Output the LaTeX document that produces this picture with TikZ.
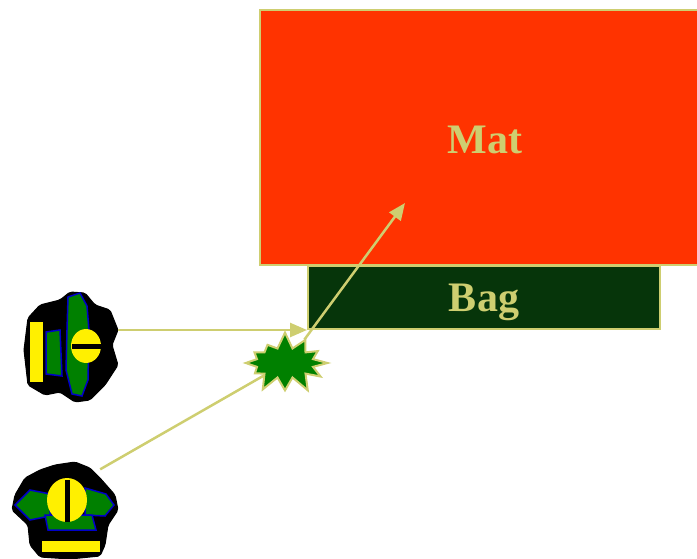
\documentclass[tikz,border=0pt]{standalone}
\usepackage{fontspec}
\setmainfont{Liberation Serif}
\usetikzlibrary{arrows.meta, shapes.symbols, positioning, calc}
\definecolor{colorKhaki}{RGB}{206,206,112}
\definecolor{colorMat}{RGB}{255,51,0}
\definecolor{colorBag}{RGB}{6,53,10}
\definecolor{colorBurst}{RGB}{0,128,0}
\definecolor{colorWing}{RGB}{0,128,0}
\definecolor{colorEdge}{RGB}{0,0,200}
\definecolor{colorBody}{RGB}{255,240,0}

\begin{document}
\begin{tikzpicture}[
    x=1pt, y=-1pt,
    every node/.style={font=\bfseries\fontsize{42}{44}\selectfont, text=colorKhaki},
    box-style/.style={draw=colorKhaki, line width=2pt, inner sep=0pt},
    hit-style/.style={-{Triangle[length=17pt, width=14pt]}, line width=2.5pt, color=colorKhaki},
    line-style/.style={line width=2.5pt, color=colorKhaki},
    wing/.style={fill=colorWing, draw=colorEdge, line width=1.5pt},
    shell/.style={fill=black, draw=black, line width=1pt, rounded corners=2pt},
    yolk/.style={fill=colorBody}
]
    \useasboundingbox (0,0) rectangle (697,559);

    % Mat and bag (mat runs off the right side)
    \node[box-style, fill=colorMat, minimum width=440pt, minimum height=255pt] (mat) at (480,137.5) {};
    \node at (485,140) {Mat};
    \node[box-style, fill=colorBag, minimum width=352pt, minimum height=63pt, text depth=0pt] (bag) at (484,297.5) {Bag};
    \coordinate (hit) at (405,203);

    % Bugs
    \node[minimum width=96pt, minimum height=110pt, inner sep=0pt] (bugA) at (70,347) {};
    \node[minimum width=108pt, minimum height=97pt, inner sep=0pt] (bugB) at (64,510) {};

    % side-view bug
    \draw[shell] (28,318) -- (40,305) -- (60,300) -- (70,292) -- (85,293) -- (95,305) -- (110,310)
        -- (118,330) -- (112,345) -- (118,365) -- (105,385) -- (90,400) -- (75,402) -- (60,392)
        -- (45,395) -- (28,385) -- (24,350) -- cycle;
    \draw[wing] (68,297) -- (80,293) -- (87,306) -- (89,330) -- (88,380) -- (82,396) -- (72,394)
        -- (66,370) -- (67,330) -- cycle;
    \draw[wing] (46,332) -- (60,330) -- (62,376) -- (46,374) -- cycle;
    \fill[yolk] (30,322) rectangle (43,382);
    \fill[yolk] (86,346) ellipse (15 and 17);
    \fill[black] (72,344) rectangle (101,349);

    % top-view bug
    \draw[shell] (25,478) -- (40,470) -- (55,465) -- (75,462) -- (90,468) -- (100,478) -- (115,495)
        -- (118,510) -- (108,525) -- (105,545) -- (100,556) -- (70,559) -- (40,557) -- (30,545)
        -- (28,525) -- (12,510) -- (15,495) -- cycle;
    \draw[wing] (15,505) -- (30,490) -- (50,494) -- (50,516) -- (30,520) -- cycle;
    \draw[wing] (85,488) -- (106,494) -- (114,505) -- (105,516) -- (85,515) -- cycle;
    \draw[wing] (45,515) -- (92,515) -- (96,530) -- (48,530) -- cycle;
    \fill[yolk] (67,500) ellipse (20 and 22);
    \fill[black] (65,480) rectangle (70,522);
    \fill[yolk] (42,541) rectangle (100,552);

    % Incoming paths and the burst
    \draw[line-style] ([shift={(-18,8)}]bugB.north east) -- (284,364);
    \draw[hit-style] (bugA.east |- bag.south west) -- (bag.south west);
    \node[starburst, starburst points=12, starburst point height=17pt, random starburst=7,
        fill=colorBurst, draw=colorKhaki, line width=2pt,
        minimum width=92pt, minimum height=64pt, inner sep=0pt] (burst) at (285,363) {};
    \draw[hit-style] ([shift={(-2,-2)}]burst.north east) -- (hit);
\end{tikzpicture}
\end{document}
